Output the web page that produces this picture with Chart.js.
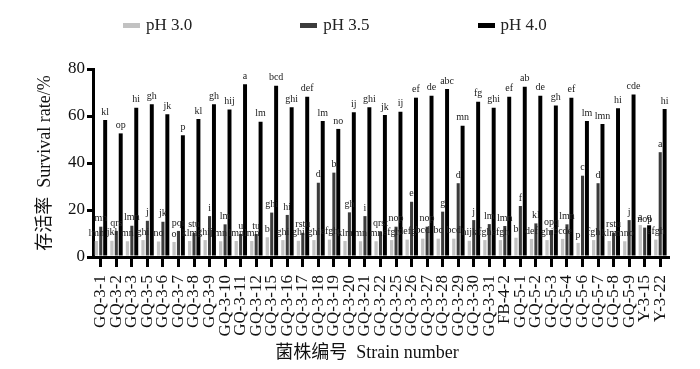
<!DOCTYPE html>
<html>
<head>
<meta charset="utf-8">
<script src="https://cdn.jsdelivr.net/npm/chart.js@4"></script>
<style>
body { margin: 0; background: #fff; }
#wrap { position: relative; width: 700px; height: 369px; }
#legend { position: absolute; left: 123px; top: 15px; display: flex; gap: 108px;
          font: 17px "Liberation Serif", serif; color: #222; }
.item { display: flex; align-items: center; }
.sw { width: 17px; height: 5px; margin-right: 6px; }
</style>
</head>
<body>
<div id="wrap">
  <canvas id="chart" width="700" height="369"></canvas>
  <div id="legend"></div>
</div>
<script>
const strains = ['GQ-3-1', 'GQ-3-2', 'GQ-3-3', 'GQ-3-5', 'GQ-3-6', 'GQ-3-7', 'GQ-3-8', 'GQ-3-9',
    'GQ-3-10', 'GQ-3-11', 'GQ-3-12', 'GQ-3-15', 'GQ-3-16', 'GQ-3-17', 'GQ-3-18', 'GQ-3-19',
    'GQ-3-20', 'GQ-3-21', 'GQ-3-22', 'GQ-3-25', 'GQ-3-26', 'GQ-3-27', 'GQ-3-28', 'GQ-3-29',
    'GQ-3-30', 'GQ-3-31', 'FB-4-2', 'GQ-5-1', 'GQ-5-2', 'GQ-5-3', 'GQ-5-4', 'GQ-5-6',
    'GQ-5-7', 'GQ-5-8', 'GQ-5-9', 'Y-3-15', 'Y-3-22'];

// survival rate (%) at each pH
const ph30 = [6.8, 6.9, 6.7, 7.2, 6.6, 6.4, 6.8, 7.2, 6.7, 6.8, 6.8, 8.4, 7.2, 6.9, 7.2, 7.4,
    6.8, 6.7, 6.7, 7.2, 7.4, 7.8, 7.8, 7.8, 6.9, 7.2, 7.2, 8.2, 7.7, 7.2, 7.7, 6.0,
    7.2, 6.8, 6.7, 13.6, 7.4];
const ph35 = [12.9, 11.1, 13.3, 15.4, 15.0, 11.1, 10.3, 17.4, 13.9, 9.8, 9.8, 18.9, 17.9, 10.3, 31.6, 35.9,
    19.0, 17.4, 10.8, 12.9, 23.5, 12.9, 19.3, 31.4, 15.7, 14.0, 13.2, 21.7, 14.3, 11.5, 13.9, 34.6,
    31.4, 10.3, 15.7, 12.5, 44.6];
const ph40 = [58.3, 52.6, 63.5, 65.0, 60.7, 51.8, 58.7, 65.0, 62.8, 73.5, 57.6, 72.9, 63.7, 68.2, 57.9, 54.5,
    61.6, 63.7, 60.4, 61.8, 67.8, 68.6, 71.5, 55.9, 66.1, 63.5, 68.2, 72.5, 68.6, 64.5, 67.8, 57.9,
    56.6, 63.3, 69.2, 13.5, 63.0];

// significance letters
const let30 = ['lmn', 'jkl', 'mn', 'ghi', 'no', 'o', 'klm', 'ghij', 'mn', 'lmn', 'lmn', 'b', 'ghi', 'ghi', 'ghi', 'efgh',
    'klm', 'mn', 'mn', 'efgh', 'defg', 'bcd', 'bc', 'bcd', 'hijk', 'fgh', 'efgh', 'b', 'def', 'ghi', 'bcde', 'p',
    'fgh', 'klm', 'mno', 'a', 'efgh'];
const let35 = ['mn', 'qrs', 'lmn', 'j', 'jk', 'pqr', 'stu', 'i', 'lm', 'u', 'tu', 'ghi', 'hi', 'rstu', 'd', 'b',
    'gh', 'i', 'qrst', 'nop', 'e', 'nop', 'g', 'd', 'j', 'lm', 'lmn', 'f', 'kl', 'opq', 'lmn', 'c',
    'd', 'rstu', 'j', 'nop', 'a'];
const let40 = ['kl', 'op', 'hi', 'gh', 'jk', 'p', 'kl', 'gh', 'hij', 'a', 'lm', 'bcd', 'ghi', 'def', 'lm', 'no',
    'ij', 'ghi', 'jk', 'ij', 'ef', 'de', 'abc', 'mn', 'fg', 'ghi', 'ef', 'ab', 'de', 'gh', 'ef', 'lm',
    'lmn', 'hi', 'cde', 'q', 'hi'];

const yTicks = [0, 20, 40, 60, 80];

const serif = '"Liberation Serif", "Noto Sans CJK SC", serif';

const letterPlugin = {
    id: 'letters',
    afterDatasetsDraw(chart) {
        const ctx = chart.ctx;
        ctx.save();
        ctx.font = '10px "Liberation Serif", serif';
        ctx.fillStyle = '#222';
        ctx.textAlign = 'center';
        ctx.textBaseline = 'bottom';
        chart.data.datasets.forEach((ds, i) => {
            chart.getDatasetMeta(i).data.forEach((bar, j) => {
                ctx.fillText(ds.letters[j], bar.x, bar.y - 3);
            });
        });
        ctx.restore();
    }
};

const datasets = [
    { label: 'pH 3.0', data: ph30, letters: let30, backgroundColor: '#c2c2c2', barPercentage: 0.75 },
    { label: 'pH 3.5', data: ph35, letters: let35, backgroundColor: '#3c3c3c', barPercentage: 0.7 },
    { label: 'pH 4.0', data: ph40, letters: let40, backgroundColor: '#000000', barPercentage: 0.9 }
];
datasets.forEach(d => { d.categoryPercentage = 0.85; });

const ctx = document.getElementById('chart').getContext('2d');
const chart = new Chart(ctx, {
    type: 'bar',
    data: { labels: strains, datasets: datasets },
    options: {
        responsive: false,
        animation: false,
        layout: { padding: { top: 69, right: 32, left: 0, bottom: 0 } },
        plugins: {
            legend: { display: false },
            tooltip: { enabled: false }
        },
        scales: {
            x: {
                afterFit: (scale) => { scale.height = 112; },
                grid: { drawOnChartArea: false, offset: false, tickLength: 10, lineWidth: 3, color: '#000' },
                border: { width: 3, color: '#000' },
                ticks: { autoSkip: false, maxRotation: 90, minRotation: 90, padding: 8,
                         font: { family: serif, size: 17 }, color: '#111' },
                // trailing spaces nudge the centred title a little to the left, as in the original
                title: { display: true, text: '菌株编号  Strain number      ', color: '#111',
                         font: { family: serif, size: 18 }, padding: { top: 0, bottom: 5 } }
            },
            y: {
                min: 0,
                max: 80,
                afterFit: (scale) => { scale.width = 93; },
                afterBuildTicks: (scale) => { scale.ticks = yTicks.map(v => ({ value: v })); },
                grid: { drawOnChartArea: false, tickLength: 6, lineWidth: 3, color: '#000' },
                border: { width: 3, color: '#000' },
                ticks: { padding: 2, font: { family: serif, size: 17 }, color: '#111' },
                title: { display: true, text: '存活率  Survival rate/%', color: '#111',
                         font: { family: serif, size: 18 }, padding: { top: 34, bottom: 0 } }
            }
        }
    },
    plugins: [letterPlugin]
});

// legend drawn as html so the wide spacing of the original can be kept
const legend = document.getElementById('legend');
chart.data.datasets.forEach(ds => {
    const item = document.createElement('div');
    item.className = 'item';
    item.innerHTML = `<span class="sw" style="background:${ds.backgroundColor}"></span>${ds.label}`;
    legend.appendChild(item);
});
</script>
</body>
</html>
